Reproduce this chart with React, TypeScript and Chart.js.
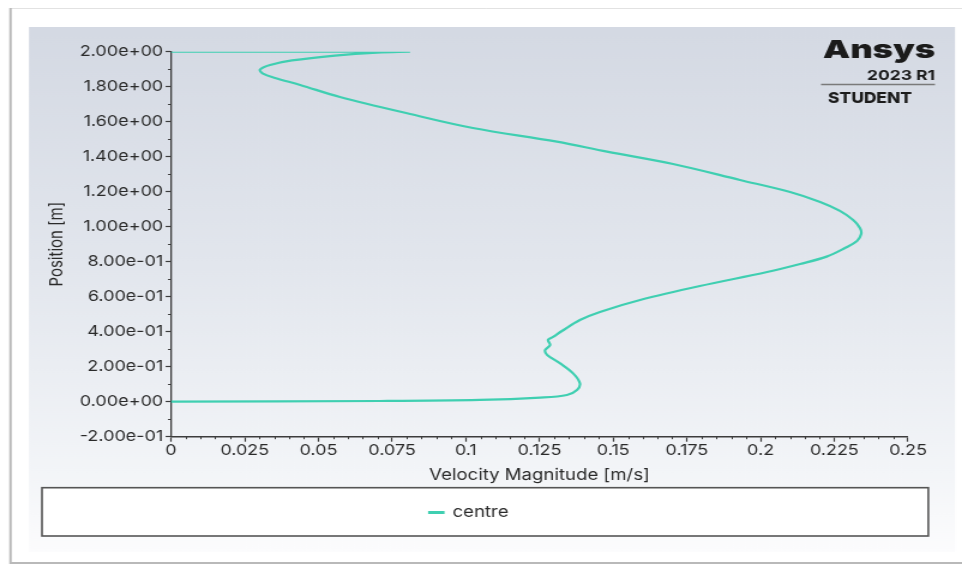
import React, { useEffect, useRef } from "react";
import { Chart, registerables } from "chart.js";

Chart.register(...registerables);

// Velocity profile sampled along the "centre" line (the outlet corner node appears twice)
const velocity = [
  0, 0.0811, 0.0811, 0.0699, 0.0556, 0.041, 0.0336, 0.0302, 0.0312, 0.0353, 0.0438,
  0.0573, 0.0811, 0.1024, 0.1309, 0.1479, 0.1703, 0.193, 0.21, 0.2202, 0.2269,
  0.2314, 0.2337, 0.2341, 0.2327, 0.2286, 0.2224, 0.2134, 0.2022, 0.1794, 0.1591,
  0.1455, 0.1387, 0.1326, 0.1296, 0.1279, 0.1286, 0.1269, 0.1276, 0.132, 0.1364,
  0.1387, 0.1377, 0.1343, 0.1252, 0.1048, 0.0709, 0,
];
const position = [
  2.0, 2.0, 2.0, 1.995, 1.978, 1.95, 1.924, 1.898, 1.875, 1.85, 1.81,
  1.741, 1.644, 1.564, 1.486, 1.429, 1.358, 1.267, 1.198, 1.141, 1.09,
  1.038, 0.993, 0.958, 0.918, 0.878, 0.829, 0.787, 0.741, 0.661, 0.581,
  0.513, 0.467, 0.404, 0.37, 0.353, 0.324, 0.295, 0.267, 0.219, 0.162,
  0.105, 0.067, 0.038, 0.023, 0.01, 0.004, 0,
];

const xTickValues = [0, 0.025, 0.05, 0.075, 0.1, 0.125, 0.15, 0.175, 0.2, 0.225, 0.25];
const yTickValues = [-0.2, 0, 0.2, 0.4, 0.6, 0.8, 1.0, 1.2, 1.4, 1.6, 1.8, 2.0];

const seriesLabel = "centre";
const xTitle = "Velocity Magnitude [m/s]";
const yTitle = "Position [m]";

// Canvas is drawn narrower and widened by CSS, giving the broad lettering of the plot.
const VIEW_W = 962;
const VIEW_H = 566;
const CANVAS_W = 802;
const S = VIEW_W / CANVAS_W;
const cx = (screenX: number) => screenX / S;

const LINE = "#3fcfb1";
const FONT = "Inter, 'Noto Sans', sans-serif";
const TEXT = "#2a2a2a";

function sciLabel(v: number): string {
  return Number(v.toPrecision(8))
    .toExponential(2)
    .replace(/e([+-])(\d)$/, "e$10$2");
}

function plainLabel(v: number): string {
  return String(Number(v.toFixed(4)));
}

const framePlugin = {
  id: "frame",
  beforeDraw(chart: any) {
    const { ctx } = chart;
    ctx.save();
    ctx.fillStyle = "#ffffff";
    ctx.fillRect(0, 0, chart.width, chart.height);

    // outer sheet with a soft border
    ctx.strokeStyle = "#e2e2e2";
    ctx.lineWidth = 1;
    ctx.beginPath();
    ctx.moveTo(cx(10), 8.5);
    ctx.lineTo(chart.width, 8.5);
    ctx.stroke();
    ctx.strokeStyle = "#b9b9b9";
    ctx.lineWidth = 2;
    ctx.beginPath();
    ctx.moveTo(cx(10.5), 8);
    ctx.lineTo(cx(10.5), 563);
    ctx.lineTo(chart.width, 563);
    ctx.stroke();

    // plot panel with vertical gradient
    const top = 27;
    const bottom = 552;
    const g = ctx.createLinearGradient(0, top, 0, bottom);
    g.addColorStop(0, "#d4d9e3");
    g.addColorStop(0.45, "#e2e6ed");
    g.addColorStop(0.85, "#f3f5f8");
    g.addColorStop(1, "#fcfcfd");
    ctx.fillStyle = g;
    ctx.fillRect(cx(29), top, cx(955) - cx(29), bottom - top);

    // legend frame
    ctx.fillStyle = "#ffffff";
    ctx.fillRect(cx(42), 487.7, cx(928.3) - cx(42), 536 - 487.7);
    ctx.strokeStyle = "#555555";
    ctx.lineWidth = 1.6;
    ctx.strokeRect(cx(42), 487.7, cx(928.3) - cx(42), 536 - 487.7);
    ctx.restore();
  },
  afterDraw(chart: any) {
    const { ctx } = chart;
    const xs = chart.scales.x;
    const ys = chart.scales.y;
    ctx.save();
    ctx.strokeStyle = "#3c3c3c";
    ctx.lineWidth = 1;
    // minor ticks on the velocity axis every 0.005
    for (let i = 1; i < 50; i++) {
      if (i % 5 === 0) continue;
      const x = Math.round(xs.getPixelForValue(i * 0.005)) + 0.5;
      ctx.beginPath();
      ctx.moveTo(x, ys.bottom);
      ctx.lineTo(x, ys.bottom + 2.5);
      ctx.stroke();
    }
    // minor ticks on the position axis every 0.1
    for (let i = -1; i < 20; i += 2) {
      const y = Math.round(ys.getPixelForValue(i * 0.1)) + 0.5;
      ctx.beginPath();
      ctx.moveTo(xs.left - 2.5, y);
      ctx.lineTo(xs.left, y);
      ctx.stroke();
    }

    // product badge
    const fitText = (text: string, font: string, left: number, right: number, baseline: number) => {
      ctx.font = font;
      const w = ctx.measureText(text).width;
      const k = (right - left) / w;
      ctx.save();
      ctx.translate(left, baseline);
      ctx.scale(k, 1);
      ctx.fillText(text, 0, 0);
      ctx.restore();
    };
    ctx.fillStyle = "#1b1b1b";
    ctx.textBaseline = "alphabetic";
    ctx.textAlign = "left";
    fitText("Ansys", `900 25px ${FONT}`, cx(823), cx(935), 58);
    fitText("2023 R1", `bold 13.5px ${FONT}`, cx(867), cx(935), 80);
    ctx.strokeStyle = "#7a7a7a";
    ctx.lineWidth = 1.4;
    ctx.beginPath();
    ctx.moveTo(cx(821), 84.5);
    ctx.lineTo(cx(935), 84.5);
    ctx.stroke();
    fitText("STUDENT", `800 15px ${FONT}`, cx(828), cx(912), 103);
    ctx.restore();
  },
};

export default function App() {
  const canvasRef = useRef<HTMLCanvasElement | null>(null);

  useEffect(() => {
    const canvas = canvasRef.current;
    if (!canvas) return;

    const points = velocity.map((v, i) => ({ x: v, y: position[i] }));

    const chart = new Chart(canvas, {
      type: "scatter",
      data: {
        datasets: [
          {
            label: seriesLabel,
            data: points,
            showLine: true,
            borderColor: LINE,
            backgroundColor: LINE,
            borderWidth: 2.2,
            pointRadius: 0,
            pointHoverRadius: 0,
            tension: 0.35,
          },
        ],
      },
      options: {
        animation: false,
        responsive: false,
        devicePixelRatio: 1,
        events: [],
        layout: {
          padding: { left: 25, right: cx(962) - cx(908), top: 51.7, bottom: 35.75 },
        },
        plugins: {
          legend: {
            position: "bottom",
            labels: {
              boxWidth: 11.5,
              boxHeight: 1,
              padding: 20.45,
              color: TEXT,
              font: { family: FONT, size: 15.5 },
            },
          },
          tooltip: { enabled: false },
        },
        scales: {
          x: {
            type: "linear",
            min: 0,
            max: 0.25,
            afterBuildTicks: (scale: any) => {
              scale.ticks = xTickValues.map((v) => ({ value: v }));
            },
            afterFit: (scale: any) => {
              scale.height = 47.6;
            },
            grid: {
              display: true,
              drawOnChartArea: false,
              drawTicks: true,
              tickLength: 5,
              tickColor: "#3c3c3c",
              tickWidth: 1.2,
            },
            border: { display: true, color: "#3c3c3c", width: 1.5 },
            ticks: {
              padding: 0,
              autoSkip: false,
              maxRotation: 0,
              color: TEXT,
              font: { family: FONT, size: 15 },
              callback: (v: any) => plainLabel(Number(v)),
            },
            title: {
              display: true,
              text: xTitle,
              color: TEXT,
              font: { family: FONT, size: 15.5 },
              padding: { top: 0, bottom: 0 },
            },
          },
          y: {
            type: "linear",
            min: -0.2,
            max: 2.0,
            afterBuildTicks: (scale: any) => {
              scale.ticks = yTickValues.map((v) => ({ value: v }));
            },
            afterFit: (scale: any) => {
              scale.width = cx(171) - 25;
            },
            grid: {
              display: true,
              drawOnChartArea: false,
              drawTicks: true,
              tickLength: 4.5,
              tickColor: "#3c3c3c",
              tickWidth: 1.2,
            },
            border: { display: true, color: "#3c3c3c", width: 1.3 },
            ticks: {
              padding: 2,
              autoSkip: false,
              color: TEXT,
              font: { family: FONT, size: 15 },
              callback: (v: any) => sciLabel(Number(v)),
            },
            title: {
              display: true,
              text: yTitle,
              color: TEXT,
              font: { family: FONT, size: 15 },
              padding: { top: 13.5, bottom: 0 },
            },
          },
        },
      },
      plugins: [framePlugin],
    } as any);

    return () => chart.destroy();
  }, []);

  return (
    <div
      style={{
        position: "absolute",
        left: 0,
        top: 0,
        width: VIEW_W,
        height: VIEW_H,
        overflow: "hidden",
        background: "#ffffff",
      }}
    >
      <canvas
        ref={canvasRef}
        width={CANVAS_W}
        height={VIEW_H}
        style={{ display: "block", width: `${VIEW_W}px`, height: `${VIEW_H}px` }}
      />
    </div>
  );
}
